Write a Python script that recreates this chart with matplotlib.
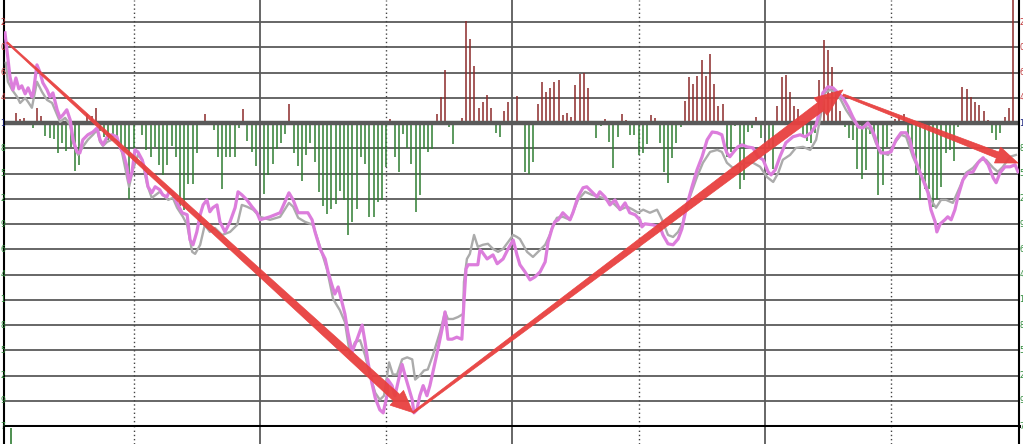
import matplotlib
matplotlib.use('Agg')
import matplotlib.pyplot as plt
from matplotlib.patches import Polygon
from matplotlib.transforms import IdentityTransform, blended_transform_factory
import numpy as np

# ---------------- data ----------------
# bar (flow) values per 4-minute slot, 4 trading days x 60 slots
bar_values = [
    0, 0.1, 0.42, 0.17, 0.2, 0, -0.19, 0.62, 0.28, -0.52,
    -0.58, -0.61, -1.2, -0.77, -1.1, -0.94, -1.9, -1.67, 0, 0.38,
    0.28, 0.61, -0.3, -0.54, -0.67, -0.54, -0.67, -0.87, -1.07, -3.0,
    -1.0, 0, -0.48, -1.07, -1.34, -0.94, -1.67, -2.06, -1.67, -0.9,
    -1.34, -3.3, -3.45, -2.4, -2.43, -1.2, 0, 0.36, 0.05, -0.28,
    -1.36, -2.6, -1.34, -1.34, -1.34, -0.19, 0.58, -0.71, -1.14, -1.7,
    0, -2.79, -2.06, -1.63, -1.04, -0.78, -0.41, 0.75, -1.18, -1.71,
    -2.3, -1.27, -0.78, -1.53, -2.72, -3.29, -3.61, -3.39, -3.21, -2.69,
    -3.06, -4.44, -3.9, -3.39, -1.34, -1.6, -3.72, -3.72, -3.12, -3.06,
    -1.73, 0.15, -1.34, -1.93, -0.41, -1.0, -1.6, -3.52, -2.86, -1.04,
    -1.14, -1.04, 0.38, 1.02, 2.1, -0.15, -0.81, -0.08, 0.19, 4.06,
    3.32, 2.26, 0.62, 0.85, 1.11, 0.62, -0.38, -0.54, 0.48, 0.82,
    0, 1.08, 0.1, -1.93, -2.02, -1.53, 0.75, 1.64, 1.24, 1.38,
    1.64, 1.71, 0.32, 0.41, 0.25, 1.51, 1.94, 2.0, 1.38, 0,
    -0.57, -0.12, 0.16, -0.74, -1.76, -0.54, 0.36, 0.12, -0.45, -0.45,
    -1.28, -1.2, -0.81, 0.32, 0.22, -0.78, -1.93, -2.37, -1.4, -0.78,
    -0.17, 0.87, 1.81, 1.57, 1.87, 2.5, 1.87, 2.74, 1.55, 0.67,
    0.75, -1.34, -1.14, -0.12, -2.6, -2.26, -0.34, -0.19, 0.25, -0.57,
    0, -1.0, -1.8, 0.67, 1.81, 1.9, 1.24, 0.67, 0.58, -0.5,
    -0.7, -0.8, -0.4, 1.71, 3.29, 2.9, 2.24, 1.24, 0.48, -0.15,
    -0.58, -0.67, -1.8, -2.2, -1.84, -0.41, -0.54, -2.86, -2.46, -0.94,
    0, 0.18, 0.25, 0.36, -0.6, -1.27, -2.06, -3.03, -2.6, -2.6,
    -3.32, -2.99, -2.53, -1.2, -1.07, -1.5, -0.15, 1.42, 1.34, 1.04,
    0.85, 0.71, 0.48, 0.12, -0.38, -0.67, -0.38, 0.25, 0.62, 5.2,
    0,
]
bar_slots = list(range(len(bar_values)))

pink_x = [
    -0.6, 0.6, 1.3, 2.0, 2.7, 3.4, 4.2, 4.9, 5.8, 6.1, 7.0, 7.7, 8.4, 9.4, 10.1,
    10.8, 11.8, 12.5, 13.2, 14.1, 14.9, 15.6, 16.5, 17.2, 17.9, 19.1, 20.3, 21.3,
    22.0, 22.7, 23.7, 24.8, 26.0, 26.7, 27.5, 28.4, 28.9, 29.6, 30.3, 31.0, 32.0,
    32.7, 33.4, 34.3, 35.1, 36.2, 36.9, 37.9, 38.6, 39.3, 40.3, 41.5, 42.7, 43.4,
    44.1, 45.0, 45.8, 46.5, 47.4, 48.1, 48.8, 49.8, 50.5, 51.7, 52.9, 54.1, 54.8,
    55.7, 56.9, 58.1, 59.3, 60.0,
    62.4, 64.8, 66.9, 67.9, 69.1, 70.2, 71.4, 72.4, 73.1, 74.3, 75.5, 76.2, 77.1,
    77.8, 78.6, 79.5, 80.2, 80.9, 81.9, 83.1, 84.3, 85.0, 85.7, 86.6, 87.4, 88.5,
    89.3, 90.2, 90.4, 91.4, 92.1, 92.8, 93.8, 94.5, 95.2, 96.2, 96.6, 97.3, 98.0,
    98.8, 99.7, 100.4, 101.1, 102.3, 103.5, 104.0, 104.7, 105.7, 106.8, 108.0,
    108.5, 109.0, 109.5, 110.7, 111.8, 112.3, 112.8, 114.0, 115.4, 116.4, 117.8,
    119.0, 120.2, 121.1, 121.8,
    123.0, 124.2, 125.4, 126.6, 127.8, 128.5, 129.4, 130.1, 130.9, 132.0, 133.7,
    134.4, 135.6, 136.8, 137.7, 138.9, 140.1, 140.8, 142.0, 143.2, 144.4, 145.6,
    146.8, 147.9, 149.2, 150.3, 150.8, 151.5, 153.4, 155.1, 155.8, 157.0, 158.2,
    159.4, 160.3, 161.5, 162.7, 163.9, 165.1, 166.3, 167.5, 168.7, 169.8, 170.5,
    171.0, 171.7, 172.4, 173.6, 174.6, 175.8, 177.2, 178.4, 179.6,
    180.8, 181.5, 182.5, 183.6, 185.0, 186.7, 188.4, 189.6, 191.0, 192.2, 193.1,
    193.8, 195.0, 196.2, 197.4, 198.6, 199.8, 200.9, 202.2, 203.3, 204.5, 205.3,
    206.2, 206.9, 207.6, 208.8, 210.0, 211.2, 212.4, 213.6, 214.5, 215.2, 216.4,
    217.6, 218.8, 219.5, 220.5, 220.9, 221.7, 222.8, 223.5, 224.3, 225.2, 225.9,
    227.1, 228.3, 229.5, 230.7, 231.9, 233.1, 234.3, 235.0, 235.9, 237.1, 238.3,
    239.5, 240.2,
]
pink_y = [
    3.58, 1.83, 1.32, 1.79, 1.36, 1.48, 1.16, 1.40, 1.04, 1.16, 2.31, 2.03, 1.60,
    1.32, 1.04, 1.20, 0.53, 0.21, 0.33, 0.53, 0.13, -0.66, -1.14, -1.18, -0.66,
    -0.46, -0.35, -0.19, -0.66, -0.86, -0.54, -0.46, -0.54, -0.94, -1.18, -1.73,
    -2.33, -1.93, -1.06, -1.14, -1.45, -1.85, -2.52, -2.76, -2.52, -2.64, -2.84,
    -2.92, -2.64, -2.76, -3.16, -3.55, -3.63, -4.63, -4.82, -4.31, -3.63, -3.24,
    -3.04, -3.51, -3.35, -3.24, -3.91, -4.31, -3.91, -3.35, -2.72, -2.84, -3.04,
    -3.31, -3.55, -3.83,
    -3.71, -3.55, -2.76, -3.04, -3.55, -3.55, -3.55, -3.83, -4.31, -4.98, -5.38,
    -5.89, -6.41, -6.77, -6.49, -7.09, -7.56, -8.28, -9.06, -8.56, -8.0, -8.68,
    -9.48, -10.28, -10.88, -11.36, -11.48, -10.80, -10.16, -10.40, -10.80, -10.28,
    -9.56, -10.0, -10.40, -10.96, -11.48, -11.36, -10.80, -10.40, -10.80, -10.40,
    -9.88, -8.96, -8.0, -7.48, -8.56, -8.56, -8.48, -8.56, -7.09, -5.77, -5.61,
    -5.61, -5.61, -5.02, -5.10, -5.38, -5.22, -5.57, -5.38, -4.98, -4.63, -5.22,
    -5.61,
    -5.89, -6.21, -6.09, -5.89, -5.50, -4.71, -4.19, -3.91, -3.83, -3.55, -3.83,
    -3.55, -2.92, -2.56, -2.52, -2.72, -2.92, -2.72, -2.92, -3.24, -3.04, -3.43,
    -3.16, -3.55, -3.63, -3.83, -4.11, -3.99, -4.03, -4.11, -4.43, -4.78, -4.82,
    -4.59, -4.19, -3.24, -2.52, -1.85, -1.33, -0.66, -0.35, -0.38, -0.46, -0.94,
    -1.18, -1.33, -1.18, -0.94, -0.86, -0.94, -0.98, -1.33, -1.45,
    -1.93, -2.05, -1.85, -1.33, -0.78, -0.54, -0.46, -0.54, -0.38, -0.07, 0.53,
    1.20, 1.44, 1.40, 1.20, 1.00, 0.65, 0.25, -0.15, -0.19, 0.01, -0.19,
    -0.54, -0.94, -1.18, -1.18, -1.14, -0.66, -0.38, -0.38, -0.66, -1.18, -1.73,
    -2.25, -2.76, -3.43, -3.91, -4.31, -3.99, -3.83, -3.71, -3.83, -3.43, -2.92,
    -2.25, -1.97, -1.93, -1.57, -1.37, -1.65, -2.17, -2.36, -1.97, -1.73, -1.73,
    -1.65, -1.93,
]

gray_x = [
    -0.4, 0.1, 1.1, 2.3, 3.0, 4.2, 4.9, 5.8, 7.0, 8.2, 9.4, 10.6, 11.8, 12.5, 13.7,
    14.9, 15.6, 16.8, 17.9, 19.1, 20.3, 21.3, 22.0, 22.7, 23.7, 24.8, 26.0, 27.2,
    28.4, 28.9, 29.8, 31.0, 32.0, 33.2, 34.3, 36.2, 38.2, 39.3, 40.3, 41.7, 42.7,
    43.9, 44.6, 45.8, 46.9, 48.1, 49.3, 51.0, 52.9, 54.6, 55.7, 56.9, 58.4, 60.0,
    62.4, 64.8, 66.9, 67.9, 69.1, 70.7, 72.6, 74.3, 75.9, 77.4, 79.0, 80.2, 81.4,
    82.6, 83.8, 85.0, 86.2, 87.4, 88.5, 89.5, 90.7, 91.6, 92.6, 93.8, 95.0, 96.2,
    96.9, 98.0, 99.0, 99.9, 101.1, 102.8, 104.0, 104.7, 105.9, 107.1, 108.3,
    108.5, 109.2, 109.9, 110.9, 111.8, 113.0, 114.2, 115.4, 116.6, 117.8, 119.0,
    120.2, 121.1, 121.8,
    123.5, 124.9, 126.6, 127.8, 128.9, 129.7, 130.6, 132.0, 133.7, 135.6, 137.3,
    138.9, 140.8, 142.5, 143.9, 145.6, 147.3, 148.7, 149.9, 151.1, 152.7, 154.4,
    155.6, 157.0, 158.2, 159.4, 160.6, 161.0, 162.2, 163.9, 165.3, 167.0, 168.7,
    169.8, 171.0, 172.4, 174.1, 175.3, 177.2, 178.9,
    180.5, 182.0, 183.2, 184.3, 186.0, 187.4, 189.1, 190.8, 192.2, 193.4, 194.3,
    195.5, 196.7, 198.1, 199.3, 200.9, 202.6, 204.1, 205.3, 206.4, 207.6, 209.3,
    210.9, 212.4, 213.6, 215.2, 216.9, 218.3, 219.5, 220.7, 221.9, 223.1, 224.7,
    226.4, 227.8, 229.5, 231.2, 232.6, 234.3, 235.4, 236.6, 238.3, 239.7,
]
gray_y = [
    2.39, 1.64, 1.32, 1.04, 0.80, 1.00, 0.84, 0.61, 1.64, 1.24, 0.92, 0.80, 0.33,
    0.05, 0.21, -0.07, -0.78, -1.26, -0.94, -0.66, -0.46, -0.27, -0.74, -0.90,
    -0.74, -0.66, -0.66, -1.14, -2.13, -2.52, -1.85, -1.26, -1.45, -2.44, -2.96,
    -2.72, -3.04, -2.96, -3.35, -3.71, -4.03, -5.10, -5.18, -4.82, -4.03, -4.31,
    -4.15, -4.43, -4.31, -4.03, -3.24, -3.31, -3.43, -3.71,
    -3.83, -3.71, -3.16, -3.31, -3.75, -3.91, -4.03, -4.90, -5.77, -6.97, -7.41,
    -7.88, -9.16, -8.68, -8.60, -9.20, -10.0, -10.68, -10.96, -10.80, -9.48,
    -9.96, -9.96, -9.36, -9.28, -9.36, -10.16, -10.0, -9.80, -9.76, -9.20, -8.28,
    -7.48, -7.76, -7.76, -7.68, -7.56, -6.29, -5.38, -5.18, -4.43, -4.90, -4.82,
    -4.78, -4.98, -5.10, -4.98, -4.71, -4.43, -4.51, -4.59,
    -5.10, -5.30, -5.02, -4.82, -4.43, -4.03, -3.75, -3.71, -3.83, -3.04, -2.72,
    -2.84, -2.92, -3.04, -3.16, -3.43, -3.31, -3.43, -3.55, -3.43, -3.55, -3.43,
    -3.83, -4.43, -4.51, -4.31, -3.91, -3.55, -2.92, -2.13, -1.57, -1.14, -1.06,
    -1.14, -1.57, -1.77, -1.65, -1.57, -1.57, -1.73,
    -2.13, -2.33, -1.97, -1.45, -1.26, -0.98, -0.94, -1.06, -0.66, 0.41, 1.20,
    1.32, 1.24, 0.92, 0.53, 0.13, -0.15, -0.15, -0.27, -0.78, -1.14, -1.26,
    -0.78, -0.46, -0.54, -1.33, -1.97, -2.44, -3.04, -3.35, -3.04, -3.04, -3.16,
    -2.52, -1.97, -1.77, -1.45, -1.45, -1.77, -1.93, -1.73, -1.33, -1.26,
]

grid_levels = list(range(-11, 5))
label_levels = list(range(4, -13, -1))
left_digits = ["2", "0", "6", "4", "1", "8", "5", "2", "9", "6", "4", "1", "8", "5", "2", "9", "7"]
day_bounds = [60, 120, 180]
mid_marks = [30, 90, 150, 210]
# hand-drawn trend arrows: (start, end) in (slot, value)
arrows = [((-0.1, 3.2), (96.4, -11.47)),
          ((96.4, -11.47), (198.6, 1.32)),
          ((198.6, 1.12), (240.2, -1.58))]
vol_slots = [0.8]
vol_values = [0.92]

# ---------------- figure ----------------
W, H = 1023, 444
fig = plt.figure(figsize=(W / 100, H / 100), dpi=100)
fig.patch.set_facecolor('white')

XL = (-0.83, 240.43)
ax = fig.add_axes([4 / W, 18 / H, 1015 / W, 426 / H])
ax.set_xlim(*XL)
ax.set_ylim(-12, 4.88)
ax.set_xticks([])
ax.set_yticks([])
ax.spines['top'].set_visible(False)
ax.spines['left'].set_color('black')
ax.spines['left'].set_linewidth(1.5)
ax.spines['right'].set_color('black')
ax.spines['right'].set_linewidth(1.5)
ax.spines['bottom'].set_color('black')
ax.spines['bottom'].set_linewidth(2.2)

GRID = '#5a5a5a'
for lv in grid_levels:
    if lv == 0:
        continue
    ax.axhline(lv, color=GRID, lw=1.3, zorder=1)
for d in day_bounds:
    ax.axvline(d, color=GRID, lw=1.3, zorder=1)
for m in mid_marks:
    ax.axvline(m, color='#444444', lw=1.0, linestyle=(0, (1, 2)), zorder=1)

bv = np.array(bar_values)
bs = np.array(bar_slots)
pos = bv > 0
neg = bv < 0
ax.vlines(bs[pos], 0, bv[pos], color='#8b2a2a', lw=1.1, zorder=2)
ax.vlines(bs[neg], 0, bv[neg], color='#2f7d32', lw=1.1, zorder=2)
ax.axhline(0, color='#5a5a5a', lw=3.2, zorder=2.5)

ax.plot(gray_x, gray_y, color='#ababab', lw=1.7, zorder=3, solid_joinstyle='round')
ax.plot(pink_x, pink_y, color='#dc7ddc', lw=2.3, zorder=3.2, solid_joinstyle='round')

# small edge labels (the screenshot shows them squeezed against the frame)
def lab_color(v):
    if v > 0:
        return '#c0393b'
    if v == 0:
        return '#1a237e'
    return '#2e8b3a'

left_tr = blended_transform_factory(fig.transFigure, ax.transData)
for lv, dg in zip(label_levels, left_digits):
    ax.text(0.4 / W, lv, dg, transform=left_tr, ha='left', va='center',
            fontsize=5.5, color=lab_color(lv), clip_on=False)
    ax.text(1019.6 / W, lv, dg, transform=left_tr, ha='left', va='center',
            fontsize=5.5, color=lab_color(lv), clip_on=False)

# bottom (volume) strip
ax2 = fig.add_axes([4 / W, 0, 1015 / W, 17 / H])
ax2.set_xlim(*XL)
ax2.set_ylim(0, 1)
ax2.set_xticks([])
ax2.set_yticks([])
for s in ['top', 'bottom']:
    ax2.spines[s].set_visible(False)
for s in ['left', 'right']:
    ax2.spines[s].set_color('black')
    ax2.spines[s].set_linewidth(1.5)
for d in day_bounds:
    ax2.axvline(d, color=GRID, lw=1.3)
for m in mid_marks:
    ax2.axvline(m, color='#444444', lw=1.0, linestyle=(0, (1, 2)))
ax2.vlines(vol_slots, 0, vol_values, color='#2f7d32', lw=1.2)

# tapered arrows
fig.canvas.draw()
def taper_arrow(p0, p1, w0, w1, hw, hl, color='#e8403f'):
    a = ax.transData.transform(p0)
    b = ax.transData.transform(p1)
    d = b - a
    L = np.hypot(*d)
    u = d / L
    n = np.array([-u[1], u[0]])
    s = b - u * hl
    pts = [a + n * w0 / 2, s + n * w1 / 2, s + n * hw / 2, b,
           s - n * hw / 2, s - n * w1 / 2, a - n * w0 / 2]
    poly = Polygon(pts, closed=True, facecolor=color, edgecolor=color, lw=0.5,
                   transform=IdentityTransform(), zorder=10, alpha=0.95)
    fig.add_artist(poly)

taper_arrow(*arrows[0], w0=1.5, w1=9, hw=20, hl=22)
taper_arrow(*arrows[1], w0=2.0, w1=10, hw=22, hl=28)
taper_arrow(*arrows[2], w0=2.0, w1=6.5, hw=17, hl=22)

fig.savefig('out.png', dpi=100, facecolor='white')
